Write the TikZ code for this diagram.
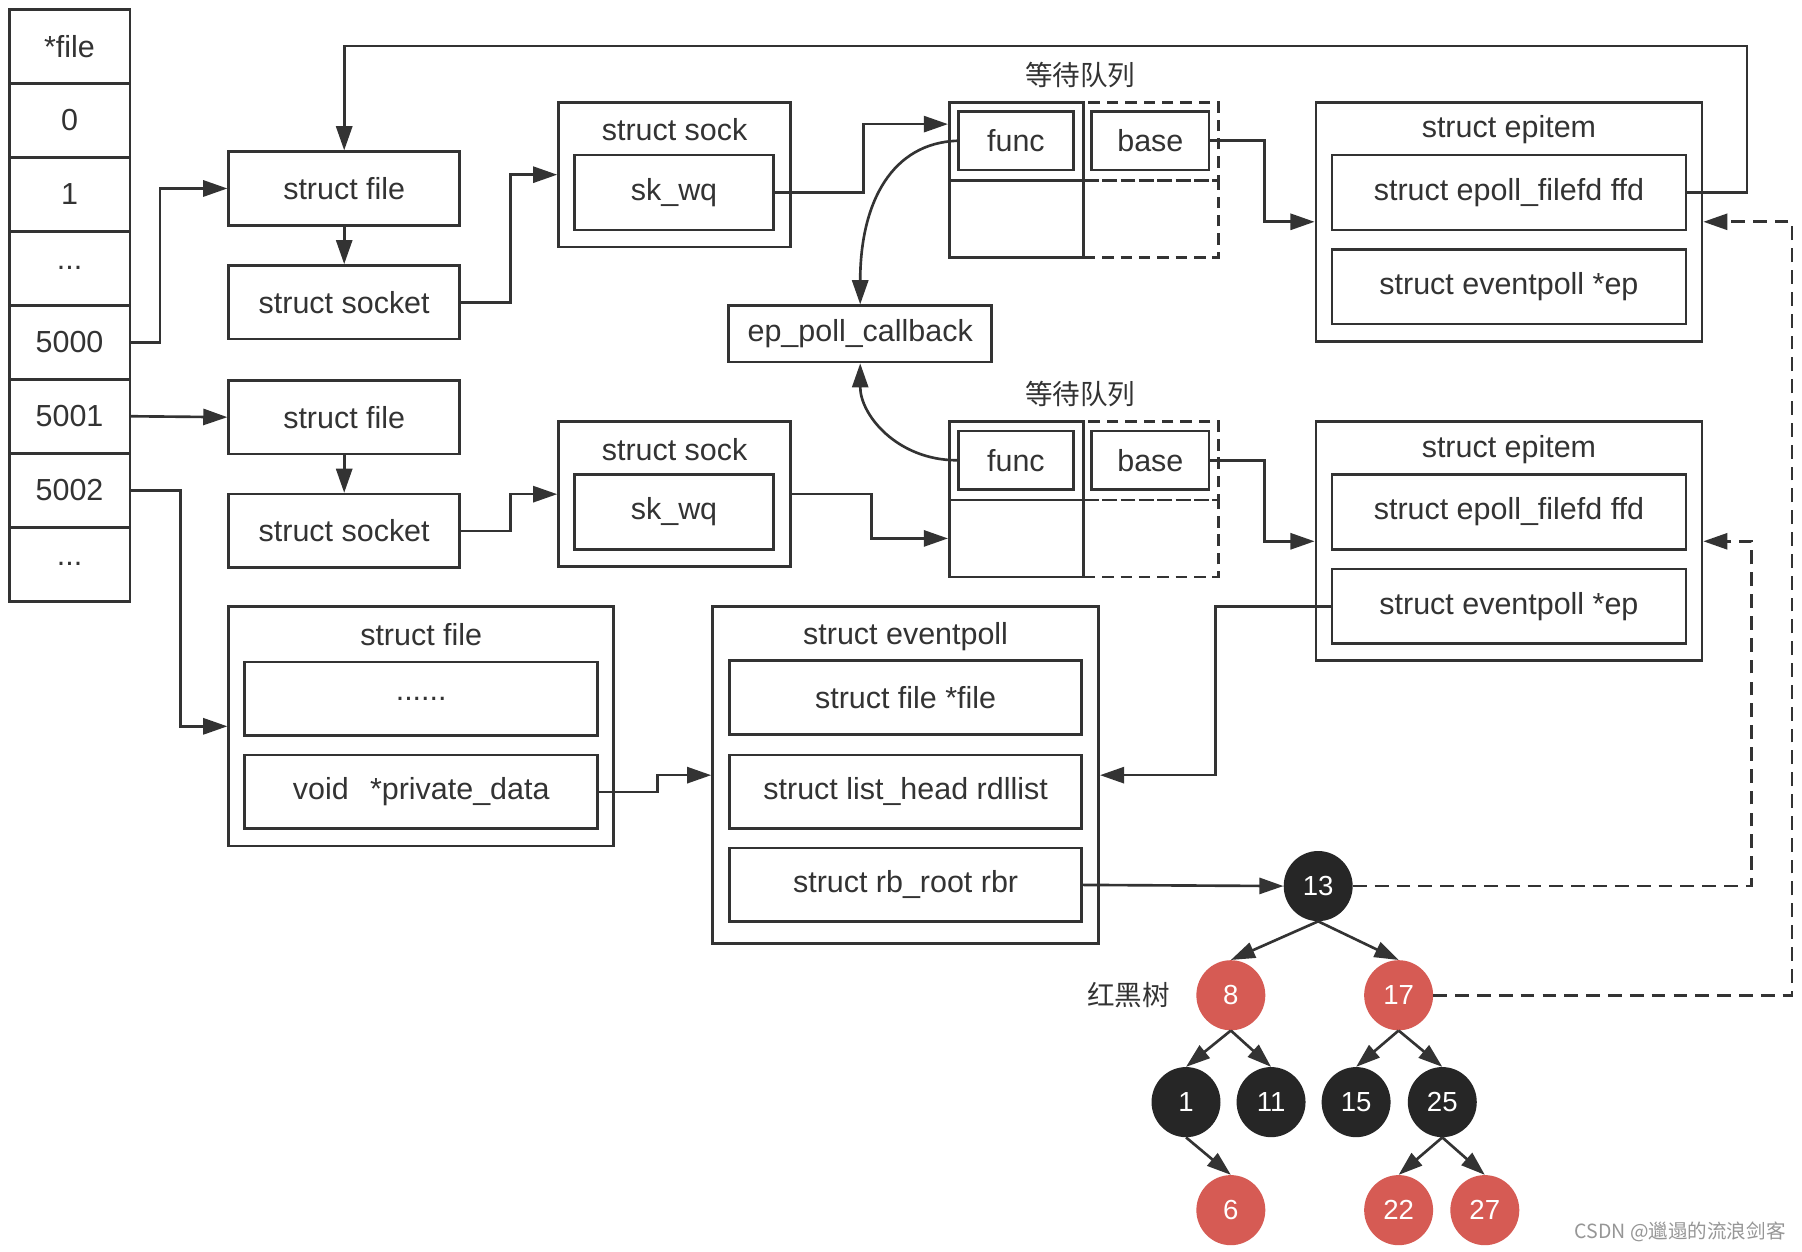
\documentclass[tikz,border=0pt]{standalone}
\usepackage{fontspec}
\setmainfont{Liberation Sans}
\newfontfamily\cjk{Noto Sans CJK SC}
\usetikzlibrary{arrows.meta,shapes.geometric}
\definecolor{ink}{RGB}{51,51,51}
\definecolor{rbred}{RGB}{214,91,84}
\definecolor{rbblack}{RGB}{38,38,38}
\definecolor{wmark}{RGB}{150,150,150}

\begin{document}
\begin{tikzpicture}[x=1pt,y=-1pt,
  font=\fontsize{26.5}{31}\selectfont,
  bx/.style 2 args={draw=ink, line width=2.3pt, rectangle, inner sep=0pt,
                    minimum width=#1, minimum height=#2, text=ink},
  dbx/.style 2 args={bx={#1}{#2}, dash pattern=on 10pt off 6pt},
  lbl/.style={text=ink, inner sep=0pt},
  cjklbl/.style={text=ink, inner sep=0pt, font=\cjk\fontsize{24}{28}\selectfont},
  arr/.style={draw=ink, line width=2.3pt, -{Triangle[length=21pt,width=14pt]}},
  darr/.style={arr, dash pattern=on 12pt off 7pt},
  rb/.style={ellipse, inner sep=0pt, minimum width=60, minimum height=61,
             text=white, font=\fontsize{24}{28}\selectfont},
  rbr/.style={rb, fill=rbred},
  rbk/.style={rb, fill=rbblack}
]
\useasboundingbox[fill=white] (0,0) rectangle (1568,1089);

% ---- file descriptor table ----
\foreach \i/\t in {0/{*file},1/0,2/1,3/{...},4/5000,5/5001,6/5002,7/{...}}
  \node[bx={105}{64.4}] (fd\i) at (60.5,{8+64.4*(\i+0.5)}) {\t};

% ---- struct file / struct socket pairs ----
\node[bx={201}{64}] (file1) at (299.5,164) {struct file};
\node[bx={201}{64}] (socket1) at (299.5,263) {struct socket};
\node[bx={201}{64}] (file2) at (299.5,363) {struct file};
\node[bx={201}{64}] (socket2) at (299.5,462) {struct socket};

% ---- struct sock ----
\node[bx={202}{126}] (sockA) at (587,152) {};
\node[lbl] (sockAt) at (587,113) {struct sock};
\node[bx={173}{65}] (skwqA) at (586.5,167.5) {sk\_wq};
\node[bx={202}{126}] (sockB) at (587,430) {};
\node[lbl] (sockBt) at (587,391) {struct sock};
\node[bx={173}{65}] (skwqB) at (586.5,445.5) {sk\_wq};

% ---- wait queues ----
\node[cjklbl] (wqAt) at (940,65) {等待队列};
\node[dbx={117}{68}] (wq1c) at (1001.5,123) {};
\node[dbx={117}{67}] (wq1d) at (1001.5,190.5) {};
\node[bx={117}{68}] (wq1a) at (884.5,123) {};
\node[bx={117}{67}] (wq1b) at (884.5,190.5) {};
\node[bx={100}{51}] (func1) at (884,122.5) {func};
\node[bx={102}{51}] (base1) at (1001,122.5) {base};

\node[cjklbl] (wqBt) at (940,343) {等待队列};
\node[dbx={117}{68}] (wq2c) at (1001.5,401) {};
\node[dbx={117}{67}] (wq2d) at (1001.5,468.5) {};
\node[bx={117}{68}] (wq2a) at (884.5,401) {};
\node[bx={117}{67}] (wq2b) at (884.5,468.5) {};
\node[bx={100}{51}] (func2) at (884,400.5) {func};
\node[bx={102}{51}] (base2) at (1001,400.5) {base};

\node[bx={229}{49}] (cb) at (748.5,290.5) {ep\_poll\_callback};

% ---- struct epitem ----
\node[bx={336}{208}] (epitemA) at (1313,193) {};
\node[lbl] (epitemAt) at (1313,113) {struct epitem};
\node[bx={308}{65}] (ffdA) at (1313,167.5) {struct epoll\_filefd ffd};
\node[bx={308}{65}] (epA) at (1313,249.5) {struct eventpoll *ep};
\node[bx={336}{208}] (epitemB) at (1313,471) {};
\node[lbl] (epitemBt) at (1313,391) {struct epitem};
\node[bx={308}{65}] (ffdB) at (1313,445.5) {struct epoll\_filefd ffd};
\node[bx={308}{65}] (epB) at (1313,527.5) {struct eventpoll *ep};

% ---- epoll file and struct eventpoll ----
\node[bx={335}{208}] (bigfile) at (366.5,632) {};
\node[lbl] (bigfilet) at (366.5,552) {struct file};
\node[bx={307}{64}] (dots) at (366.5,608) {......};
\node[bx={307}{64}] (priv) at (366.5,689) {void\hspace{0.7em}*private\_data};

\node[bx={336}{293}] (evpoll) at (788,674.5) {};
\node[lbl] (evpollt) at (788,554) {struct eventpoll};
\node[bx={306}{64}] (efile) at (788,607) {struct file *file};
\node[bx={306}{64}] (rdl) at (788,689) {struct list\_head rdllist};
\node[bx={306}{64}] (rbroot) at (788,770) {struct rb\_root rbr};

% ---- red-black tree ----
\node[rbk] (n13) at (1147,771) {13};
\node[rbr] (n8) at (1071,866) {8};
\node[rbr] (n17) at (1217,866) {17};
\node[rbk] (n1) at (1032,959) {1};
\node[rbk] (n11) at (1106,959) {11};
\node[rbk] (n15) at (1180,959) {15};
\node[rbk] (n25) at (1255,959) {25};
\node[rbr] (n6) at (1071,1053) {6};
\node[rbr] (n22) at (1217,1053) {22};
\node[rbr] (n27) at (1292,1053) {27};
\node[cjklbl] (rbtitle) at (982,866) {红黑树};

\node[inner sep=0pt, text=wmark, font=\cjk\fontsize{17}{20}\selectfont] (wm) at (1462,1072) {CSDN @邋遢的流浪剑客};

% ---- connectors ----
\draw[arr] (fd4.east) -- ++(25,0) |- (file1.west);
\draw[arr] (fd5.east) -- (file2.west);
\draw[arr] (fd6.east) -- ++(43,0) |- (bigfile.west);
\draw[arr] (file1.south) -- (socket1.north);
\draw[arr] (file2.south) -- (socket2.north);
\draw[arr] (socket1.east) -- ++(43,0) |- (sockA.west);
\draw[arr] (socket2.east) -- ++(43,0) |- (sockB.west);
\draw[arr] (skwqA.east) -- ++(77,0) |- ([yshift=15pt]wq1a.west);
\draw[arr] (sockB.east) -- ++(69,0) |- (wq2b.west);
\draw[arr] (func1.west) .. controls +(-56,2) and +(0,-90) .. (cb.north);
\draw[arr] (func2.west) .. controls +(-52,0) and +(0,45) .. (cb.south);
\draw[arr] (base1.east) -- ++(47,0) |- (epitemA.west);
\draw[arr] (base2.east) -- ++(47,0) |- (epitemB.west);
\coordinate (loopTop) at (1520,40);
\draw[arr] (ffdA.east) -| (loopTop) -| (file1.north);
\draw[arr] (epB.west) -- ++(-100,0) |- (evpoll.east);
\draw[arr] (priv.east) -- ++(51,0) |- (evpoll.west);
\draw[arr] (rbroot.east) -- (n13.west);

\draw[arr] (n13.south) -- (n8.north);
\draw[arr] (n13.south) -- (n17.north);
\draw[arr] (n8.south) -- (n1.north);
\draw[arr] (n8.south) -- (n11.north);
\draw[arr] (n17.south) -- (n15.north);
\draw[arr] (n17.south) -- (n25.north);
\draw[arr] (n1.south) -- (n6.north);
\draw[arr] (n25.south) -- (n22.north);
\draw[arr] (n25.south) -- (n27.north);

\draw[darr] (n13.east) -- ++(347,0) |- (epitemB.east);
\draw[darr] (n17.east) -- ++(312,0) |- (epitemA.east);
\end{tikzpicture}
\end{document}
